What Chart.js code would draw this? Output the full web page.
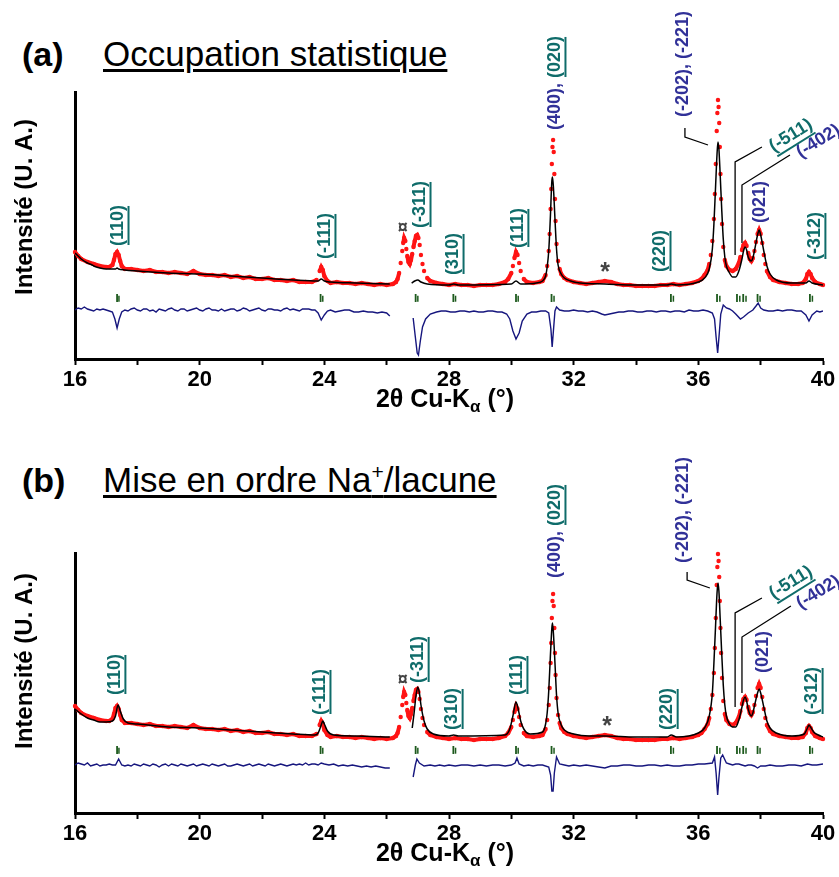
<!DOCTYPE html>
<html lang="fr">
<head>
<meta charset="utf-8">
<title>Affinement - Occupation statistique / Mise en ordre</title>
<script src="https://cdn.jsdelivr.net/npm/chart.js@4.4.0/dist/chart.umd.min.js"></script>
<style>
    html, body { margin: 0; padding: 0; background: #fff; }
    #page { position: relative; width: 839px; height: 877px; overflow: hidden; font-family: 'Liberation Sans', Arial, sans-serif; color: #000; }
    canvas { position: absolute; left: 0; }
    .tag { position: absolute; left: 22px; font-weight: bold; font-size: 34px; line-height: 1; white-space: nowrap; }
    .title { position: absolute; left: 103px; font-size: 35px; line-height: 1; white-space: nowrap;
             text-decoration: underline; text-decoration-thickness: 2.5px; text-underline-offset: 3px; }
    .title sup { font-size: 21px; vertical-align: 13px; line-height: 0; }
</style>
</head>
<body>
<div id="page">
    <div class="tag" style="top:37px">(a)</div>
    <div class="title" style="top:36px">Occupation statistique</div>
    <canvas id="chartA" width="839" height="430" style="top:0"></canvas>

    <div class="tag" style="top:463px">(b)</div>
    <div class="title" style="top:462px">Mise en ordre Na<sup>+</sup>/lacune</div>
    <canvas id="chartB" width="839" height="437" style="top:440px"></canvas>
</div>

<script>
// ===== DONNEES (2θ en degrés, intensité en unités arbitraires) =====

// Points observés (identiques pour les deux affinements)
const obsTheta = [
    16.0, 16.1, 16.2, 16.4, 16.6, 16.8, 17.0, 17.1, 17.2, 17.25,
    17.3, 17.35, 17.4, 17.45, 17.5, 17.6, 17.8, 18.0, 18.2, 18.4,
    18.6, 18.8, 19.0, 19.2, 19.4, 19.6, 19.8, 20.0, 20.2, 20.4,
    20.6, 20.8, 21.0, 21.2, 21.4, 21.6, 21.8, 22.0, 22.2, 22.4,
    22.6, 22.8, 23.0, 23.2, 23.4, 23.6, 23.75, 23.85, 23.9, 23.95,
    24.0, 24.1, 24.2, 24.4, 24.6, 24.8, 25.0, 25.2, 25.4, 25.6,
    25.8, 26.0, 26.2, 26.3, 26.35, 26.4, 26.45, 26.5, 26.53, 26.56,
    26.6, 26.63, 26.66, 26.7, 26.74, 26.78, 26.82, 26.86, 26.9, 26.94,
    26.98, 27.02, 27.06, 27.1, 27.15, 27.2, 27.3, 27.4, 27.6, 27.8,
    28.0, 28.2, 28.4, 28.6, 28.8, 29.0, 29.2, 29.4, 29.6, 29.8,
    29.9, 30.0, 30.05, 30.1, 30.15, 30.2, 30.25, 30.3, 30.4, 30.5,
    30.7, 30.9, 31.0, 31.1, 31.15, 31.2, 31.23, 31.26, 31.28, 31.3,
    31.32, 31.34, 31.36, 31.38, 31.4, 31.42, 31.45, 31.5, 31.55, 31.6,
    31.7, 31.8, 32.0, 32.2, 32.4, 32.6, 32.8, 33.0, 33.2, 33.4,
    33.6, 33.8, 34.0, 34.2, 34.4, 34.6, 34.8, 35.0, 35.2, 35.4,
    35.6, 35.8, 36.0, 36.1, 36.2, 36.3, 36.35, 36.4, 36.45, 36.5,
    36.53, 36.56, 36.59, 36.61, 36.63, 36.65, 36.67, 36.69, 36.71, 36.73,
    36.76, 36.8, 36.85, 36.9, 37.0, 37.1, 37.2, 37.3, 37.35, 37.4,
    37.45, 37.5, 37.55, 37.6, 37.65, 37.7, 37.75, 37.8, 37.85, 37.9,
    37.95, 38.0, 38.05, 38.1, 38.15, 38.2, 38.3, 38.4, 38.6, 38.8,
    39.0, 39.2, 39.35, 39.45, 39.5, 39.55, 39.6, 39.65, 39.75, 39.9,
    40.0
];
const obsInt = [
    107, 103, 100, 97, 95, 93, 92, 92, 94, 99,
    105, 107, 104, 98, 93, 90, 90, 89, 88, 89,
    87, 87, 86, 87, 86, 85, 88, 85, 84, 84,
    83, 84, 82, 83, 81, 82, 80, 80, 81, 79,
    79, 78, 79, 77, 77, 77, 79, 88, 92, 89,
    83, 78, 76, 77, 76, 76, 75, 76, 75, 74,
    75, 74, 75, 77, 80, 86, 96, 108, 116, 121,
    118, 110, 103, 97, 95, 99, 105, 112, 118, 123,
    124, 121, 114, 104, 95, 88, 81, 78, 76, 75,
    74, 75, 74, 74, 73, 74, 74, 74, 75, 77,
    80, 86, 93, 101, 107, 104, 96, 88, 80, 77,
    76, 77, 78, 84, 93, 108, 125, 150, 170, 195,
    212, 219, 207, 185, 160, 138, 115, 98, 90, 85,
    81, 79, 77, 76, 75, 76, 77, 78, 77, 75,
    74, 74, 73, 73, 73, 73, 74, 74, 75, 74,
    75, 76, 78, 80, 84, 89, 95, 104, 118, 140,
    165, 195, 228, 246, 259, 252, 236, 212, 185, 160,
    135, 112, 99, 93, 89, 88, 90, 96, 102, 109,
    114, 116, 113, 106, 100, 98, 101, 108, 117, 125,
    129, 125, 116, 104, 95, 88, 82, 79, 77, 76,
    75, 75, 76, 80, 85, 87, 85, 81, 77, 75,
    74
];

// Profil calculé (a) - null = zone exclue
const calcThetaA = [
    16.0, 16.2, 16.4, 16.55, 16.6, 16.8, 17.0, 17.3, 17.35, 17.4,
    17.6, 18.0, 19.0, 20.0, 21.0, 22.0, 23.0, 23.8, 23.9, 24.0,
    24.2, 25.0, 26.1, 26.45, 26.8, 26.9, 27.0, 27.1, 27.3, 28.0,
    28.15, 28.3, 30.0, 30.15, 30.3, 30.8, 31.0, 31.1, 31.15, 31.2,
    31.25, 31.3, 31.32, 31.35, 31.4, 31.45, 31.5, 31.6, 31.7, 31.9,
    32.2, 33.0, 34.0, 35.0, 35.13, 35.3, 36.0, 36.2, 36.35, 36.45,
    36.5, 36.55, 36.6, 36.63, 36.66, 36.7, 36.75, 36.8, 36.85, 36.9,
    37.0, 37.1, 37.2, 37.3, 37.4, 37.45, 37.5, 37.55, 37.6, 37.7,
    37.75, 37.8, 37.9, 37.95, 38.0, 38.1, 38.2, 38.3, 38.5, 39.0,
    39.45, 39.55, 39.65, 40.0
];
const calcIntA = [
    106, 100, 96, 94, 93, 91, 90, 90, 91, 90,
    89, 88, 86, 85, 83, 81, 79, 78, 80, 78,
    77, 76, 75, null, 76, 78, 79, 77, 75, 74,
    75, 74, 75, 78, 75, 76, 78, 83, 92, 108,
    140, 178, 182, 172, 140, 110, 94, 85, 81, 78,
    76, 75, 74, 74, 75, 74, 77, 81, 90, 110,
    135, 170, 205, 217, 210, 185, 150, 120, 102, 93,
    86, 82, 82, 88, 100, 108, 112, 109, 102, 98,
    101, 108, 124, 129, 124, 108, 93, 85, 79, 76,
    76, 78, 76, 74
];

// Profil calculé (b)
const calcThetaB = [
    16.0, 16.2, 16.4, 16.6, 16.8, 17.0, 17.2, 17.3, 17.38, 17.45,
    17.55, 17.7, 18.0, 19.0, 20.0, 21.0, 22.0, 23.0, 23.7, 23.8,
    23.9, 23.95, 24.0, 24.1, 24.3, 25.0, 26.1, 26.45, 26.82, 26.88,
    26.94, 27.0, 27.05, 27.1, 27.2, 27.3, 27.5, 28.0, 28.15, 28.3,
    29.8, 29.95, 30.05, 30.15, 30.22, 30.3, 30.4, 30.6, 31.0, 31.1,
    31.15, 31.2, 31.25, 31.3, 31.32, 31.35, 31.4, 31.45, 31.5, 31.6,
    31.7, 32.0, 32.5, 33.0, 34.0, 35.0, 35.13, 35.3, 36.0, 36.2,
    36.35, 36.45, 36.5, 36.55, 36.6, 36.63, 36.66, 36.7, 36.75, 36.8,
    36.85, 36.9, 37.0, 37.1, 37.2, 37.3, 37.4, 37.45, 37.5, 37.55,
    37.6, 37.7, 37.75, 37.8, 37.9, 37.95, 38.0, 38.1, 38.2, 38.3,
    38.5, 39.0, 39.4, 39.5, 39.55, 39.6, 39.7, 39.85, 40.0
];
const calcIntB = [
    104, 99, 95, 93, 91, 91, 92, 97, 108, 102,
    94, 90, 89, 86, 85, 83, 81, 79, 78, 80,
    88, 92, 89, 82, 78, 77, 76, null, 85, 100,
    117, 126, 120, 108, 92, 84, 79, 77, 78, 77,
    78, 84, 97, 111, 104, 92, 84, 79, 81, 89,
    100, 122, 155, 185, 190, 180, 150, 118, 100, 88,
    83, 79, 77, 77, 76, 76, 78, 76, 80, 85,
    97, 120, 150, 185, 220, 230, 222, 195, 160, 128,
    108, 97, 89, 86, 86, 93, 106, 113, 116, 112,
    104, 97, 100, 107, 120, 124, 120, 106, 92, 85,
    80, 77, 79, 85, 88, 86, 81, 78, 76
];

// Différence obs - calc (a)
const diffThetaA = [
    16.0, 16.1, 16.2, 16.3, 16.4, 16.5, 16.6, 16.7, 16.8, 16.9,
    17.0, 17.1, 17.2, 17.28, 17.35, 17.42, 17.5, 17.6, 17.7, 17.8,
    17.9, 18.0, 18.1, 18.2, 18.3, 18.4, 18.5, 18.6, 18.7, 18.8,
    18.9, 19.0, 19.1, 19.2, 19.3, 19.4, 19.5, 19.6, 19.7, 19.8,
    19.9, 20.0, 20.1, 20.2, 20.3, 20.4, 20.5, 20.6, 20.7, 20.8,
    20.9, 21.0, 21.1, 21.2, 21.3, 21.4, 21.5, 21.6, 21.7, 21.8,
    21.9, 22.0, 22.1, 22.2, 22.3, 22.4, 22.5, 22.6, 22.7, 22.8,
    22.9, 23.0, 23.1, 23.2, 23.3, 23.4, 23.5, 23.6, 23.7, 23.8,
    23.9, 24.0, 24.1, 24.2, 24.35, 24.5, 24.65, 24.8, 24.95, 25.1,
    25.25, 25.4, 25.55, 25.7, 25.85, 26.0, 26.1, 26.45, 26.85, 26.92,
    26.98, 27.02, 27.08, 27.15, 27.25, 27.4, 27.6, 27.75, 27.9, 28.05,
    28.2, 28.35, 28.5, 28.65, 28.8, 28.95, 29.1, 29.25, 29.4, 29.55,
    29.7, 29.85, 29.95, 30.05, 30.15, 30.25, 30.35, 30.5, 30.65, 30.8,
    30.95, 31.1, 31.2, 31.27, 31.31, 31.35, 31.4, 31.45, 31.55, 31.7,
    31.85, 32.0, 32.15, 32.3, 32.45, 32.6, 32.75, 32.9, 33.0, 33.15,
    33.3, 33.45, 33.6, 33.75, 33.9, 34.05, 34.2, 34.35, 34.5, 34.65,
    34.8, 34.95, 35.1, 35.25, 35.4, 35.55, 35.7, 35.85, 36.0, 36.15,
    36.3, 36.45, 36.52, 36.57, 36.62, 36.67, 36.72, 36.8, 36.9, 37.0,
    37.1, 37.2, 37.35, 37.45, 37.6, 37.75, 37.85, 37.92, 38.0, 38.1,
    38.25, 38.4, 38.55, 38.7, 38.85, 39.0, 39.15, 39.3, 39.45, 39.55,
    39.65, 39.8, 39.9, 40.0
];
const diffIntA = [
    49, 51, 50, 52, 50, 49, 48, 50, 49, 50,
    49, 48, 47, 40, 31, 40, 47, 49, 48, 50,
    51, 49, 48, 50, 50, 48, 49, 47, 50, 49,
    48, 50, 51, 49, 48, 50, 50, 48, 49, 50,
    51, 49, 48, 50, 51, 49, 49, 48, 50, 48,
    49, 50, 50, 48, 49, 51, 50, 48, 49, 50,
    51, 49, 48, 50, 50, 49, 49, 48, 50, 51,
    49, 50, 49, 48, 50, 50, 50, 49, 49, 46,
    39, 44, 48, 49, 47, 48, 49, 49, 47, 47,
    48, 47, 47, 46, 47, 46, 43, null, 41, 22,
    6, 4, 18, 32, 40, 45, 47, 48, 48, 47,
    47, 48, 48, 47, 48, 47, 47, 48, 48, 47,
    47, 45, 40, 28, 20, 26, 38, 45, 47, 47,
    48, 48, 46, 30, 12, 28, 48, 52, 49, 48,
    48, 49, 48, 48, 47, 48, 47, 45, 44, 45,
    46, 47, 47, 48, 48, 47, 47, 48, 48, 47,
    48, 48, 47, 48, 48, 47, 49, 48, 48, 49,
    48, 46, 40, 22, 6, 25, 45, 54, 51, 50,
    48, 45, 40, 42, 46, 49, 53, 56, 51, 49,
    48, 48, 49, 48, 49, 49, 48, 48, 44, 38,
    44, 48, 47, 48
];

// Différence obs - calc (b)
const diffThetaB = [
    16.0, 16.1, 16.2, 16.3, 16.4, 16.5, 16.6, 16.7, 16.8, 16.9,
    17.0, 17.1, 17.2, 17.3, 17.4, 17.5, 17.6, 17.7, 17.8, 17.9,
    18.0, 18.1, 18.2, 18.3, 18.4, 18.5, 18.6, 18.7, 18.8, 18.9,
    19.0, 19.1, 19.2, 19.3, 19.4, 19.5, 19.6, 19.7, 19.8, 19.9,
    20.0, 20.1, 20.2, 20.3, 20.4, 20.5, 20.6, 20.7, 20.8, 20.9,
    21.0, 21.1, 21.2, 21.3, 21.4, 21.5, 21.6, 21.7, 21.8, 21.9,
    22.0, 22.1, 22.2, 22.3, 22.4, 22.5, 22.6, 22.7, 22.8, 22.9,
    23.0, 23.1, 23.2, 23.3, 23.4, 23.5, 23.6, 23.7, 23.8, 23.9,
    24.0, 24.15, 24.3, 24.45, 24.6, 24.75, 24.9, 25.05, 25.2, 25.35,
    25.5, 25.65, 25.8, 25.95, 26.1, 26.45, 26.85, 26.92, 26.97, 27.05,
    27.2, 27.4, 27.55, 27.7, 27.85, 28.0, 28.2, 28.4, 28.6, 28.8,
    29.0, 29.2, 29.4, 29.6, 29.8, 30.0, 30.12, 30.18, 30.25, 30.4,
    30.55, 30.7, 30.85, 31.0, 31.2, 31.26, 31.3, 31.34, 31.38, 31.45,
    31.55, 31.7, 31.85, 32.0, 32.2, 32.4, 32.6, 32.8, 33.0, 33.2,
    33.4, 33.6, 33.8, 34.0, 34.2, 34.4, 34.6, 34.8, 35.0, 35.2,
    35.4, 35.6, 35.8, 36.0, 36.2, 36.45, 36.52, 36.57, 36.62, 36.66,
    36.72, 36.78, 36.9, 37.0, 37.1, 37.2, 37.3, 37.4, 37.5, 37.6,
    37.7, 37.8, 37.9, 38.0, 38.15, 38.3, 38.5, 38.7, 38.9, 39.1,
    39.3, 39.5, 39.65, 39.8, 40.0
];
const diffIntB = [
    48, 50, 49, 48, 50, 47, 48, 49, 47, 48,
    48, 49, 48, 48, 54, 48, 47, 48, 47, 49,
    48, 47, 49, 48, 47, 49, 48, 46, 48, 49,
    47, 49, 48, 47, 49, 48, 47, 48, 49, 47,
    48, 49, 48, 47, 49, 48, 47, 48, 49, 47,
    47, 48, 49, 48, 47, 48, 49, 47, 48, 49,
    48, 47, 49, 48, 47, 48, 49, 48, 47, 48,
    49, 48, 49, 48, 50, 48, 49, 49, 48, 50,
    49, 48, 49, 47, 48, 47, 48, 47, 46, 47,
    46, 47, 46, 45, 45, null, 36, 48, 54, 50,
    47, 48, 47, 48, 47, 48, 47, 48, 48, 47,
    48, 47, 48, 48, 47, 48, 50, 55, 49, 47,
    48, 47, 48, 48, 46, 38, 22, 22, 40, 56,
    49, 48, 47, 48, 47, 48, 47, 46, 45, 47,
    47, 48, 48, 47, 47, 48, 48, 47, 48, 47,
    47, 48, 48, 49, 49, 50, 56, 40, 18, 35,
    55, 58, 50, 49, 48, 49, 49, 48, 47, 48,
    48, 47, 45, 47, 47, 48, 47, 47, 48, 48,
    47, 49, 48, 48, 49
];

// Positions de Bragg (Kα1 et Kα2)
const braggK1 = [17.35, 23.88, 26.93, 28.14, 30.15, 31.29, 35.12, 36.6, 37.24, 37.44, 37.9, 39.58];
const braggK2 = [17.41, 23.95, 27.0, 28.21, 30.22, 31.37, 35.2, 36.69, 37.33, 37.53, 37.98, 39.66];

// ===== STYLES =====
const FONT = "'Liberation Sans', Arial, Helvetica, sans-serif";
const NARROW = "'Liberation Sans Narrow', 'Arial Narrow', 'Liberation Sans', Arial, sans-serif";
const TEAL = '#0f6c6a';
const BLUE = '#313198';

// Annotations des pics (position 2θ, hauteur de départ)
const labelsA = [
    { x: 17.38, y: 113, parts: [['(110)', TEAL, true]] },
    { x: 24.02, y: 100, parts: [['(-111)', TEAL, true]] },
    { x: 27.07, y: 131, parts: [['(-311)', TEAL, true]] },
    { x: 28.13, y: 84, parts: [['(310)', TEAL, true]] },
    { x: 30.21, y: 111, parts: [['(111)', TEAL, true]] },
    { x: 31.40, y: 229, parts: [['(400), ', BLUE, false], ['(020)', TEAL, true]] },
    { x: 34.77, y: 87, parts: [['(220)', TEAL, true]] },
    { x: 35.51, y: 242, parts: [['(-202), (-221)', BLUE, false]] },
    { x: 38.33, y: 211, angle: 32, parts: [['(-511)', TEAL, true]] },
    { x: 39.20, y: 205, angle: 32, parts: [['(-402)', BLUE, false]] },
    { x: 37.98, y: 136, parts: [['(021)', BLUE, false]] },
    { x: 39.74, y: 99, parts: [['(-312)', TEAL, true]] }
];
const labelsB = [
    { x: 17.28, y: 118, parts: [['(110)', TEAL, true]] },
    { x: 23.86, y: 98, parts: [['(-111)', TEAL, true]] },
    { x: 27.01, y: 130, parts: [['(-311)', TEAL, true]] },
    { x: 28.10, y: 83, parts: [['(310)', TEAL, true]] },
    { x: 30.18, y: 118, parts: [['(111)', TEAL, true]] },
    { x: 31.40, y: 235, parts: [['(400), ', BLUE, false], ['(020)', TEAL, true]] },
    { x: 35.00, y: 83, parts: [['(220)', TEAL, true]] },
    { x: 35.51, y: 250, parts: [['(-202), (-221)', BLUE, false]] },
    { x: 38.33, y: 218, angle: 32, parts: [['(-511)', TEAL, true]] },
    { x: 39.20, y: 208, angle: 32, parts: [['(-402)', BLUE, false]] },
    { x: 38.07, y: 140, parts: [['(021)', BLUE, false]] },
    { x: 39.65, y: 98, parts: [['(-312)', TEAL, true]] }
];
const leadersA = [
    [[35.57, 231], [35.57, 222], [36.31, 214]],
    [[38.04, 212], [37.18, 197], [37.18, 104]],
    [[38.94, 204], [37.40, 174], [37.40, 116]]
];
const leadersB = [
    [[35.64, 241], [35.64, 233], [36.37, 225]],
    [[38.04, 215], [37.18, 200], [37.18, 106]],
    [[38.97, 207], [37.40, 176], [37.40, 120]]
];
const marksA = [{ x: 26.52, y: 131, text: '¤', size: 18 }, { x: 33.01, y: 86, text: '*', size: 25 }];
const marksB = [{ x: 26.52, y: 133, text: '¤', size: 18 }, { x: 33.07, y: 86, text: '*', size: 25 }];

// ===== OUTILS =====
function toPoints(xs, ys) {
    return xs.map((x, i) => ({ x: x, y: ys[i] }));
}

function levelPoints(xs, level) {
    return xs.map(x => ({ x: x, y: level }));
}

// Plugin : titres des axes, indexation des pics, symboles
const peakNotes = {
    id: 'peakNotes',
    afterDraw(chart, args, opts) {
        const { ctx, chartArea } = chart;
        const sx = chart.scales.x;
        const sy = chart.scales.y;
        ctx.save();

        // lignes de rappel
        ctx.strokeStyle = '#000';
        ctx.lineWidth = 1.3;
        opts.leaders.forEach(path => {
            ctx.beginPath();
            path.forEach((p, i) => {
                const px = sx.getPixelForValue(p[0]);
                const py = sy.getPixelForValue(p[1]);
                if (i === 0) ctx.moveTo(px, py); else ctx.lineTo(px, py);
            });
            ctx.stroke();
        });

        // indices (hkl)
        ctx.font = 'bold 18px ' + FONT;
        opts.labels.forEach(lbl => {
            ctx.save();
            ctx.translate(sx.getPixelForValue(lbl.x), sy.getPixelForValue(lbl.y));
            ctx.rotate(-(lbl.angle === undefined ? 90 : lbl.angle) * Math.PI / 180);
            ctx.textAlign = 'left';
            ctx.textBaseline = 'middle';
            let cx = 0;
            lbl.parts.forEach(part => {
                const w = ctx.measureText(part[0]).width;
                ctx.fillStyle = part[1];
                ctx.fillText(part[0], cx, 0);
                if (part[2]) ctx.fillRect(cx + 1, 9.5, w - 2, 2);
                cx += w;
            });
            ctx.restore();
        });

        // symboles ¤ et *
        ctx.textAlign = 'center';
        ctx.textBaseline = 'middle';
        ctx.fillStyle = '#444';
        opts.marks.forEach(m => {
            ctx.font = 'bold ' + m.size + 'px ' + FONT;
            ctx.fillText(m.text, sx.getPixelForValue(m.x), sy.getPixelForValue(m.y));
        });

        // titre axe Y
        ctx.fillStyle = '#000';
        ctx.save();
        ctx.translate(25, chartArea.bottom - 152);
        ctx.rotate(-Math.PI / 2);
        ctx.font = 'bold 24px ' + FONT;
        ctx.fillText('Intensité (U. A.)', 0, 0);
        ctx.restore();

        // titre axe X avec indice α
        const parts = [['2θ Cu-K', 25, 0], ['α', 17, 7], [' (°)', 25, 0]];
        let total = 0;
        parts.forEach(p => {
            ctx.font = 'bold ' + p[1] + 'px ' + NARROW;
            p.push(ctx.measureText(p[0]).width);
            total += p[3];
        });
        let tx = 445 - total / 2;
        const ty = chartArea.bottom + 41;
        ctx.textAlign = 'left';
        parts.forEach(p => {
            ctx.font = 'bold ' + p[1] + 'px ' + NARROW;
            ctx.fillText(p[0], tx, ty + p[2]);
            tx += p[3];
        });
        ctx.restore();
    }
};

// ===== CREATION D'UN PANNEAU =====
function makePanel(canvasId, cfg) {
    const ctx = document.getElementById(canvasId).getContext('2d');
    return new Chart(ctx, {
        type: 'line',
        data: {
            datasets: [
                {
                    label: 'Calc',
                    data: toPoints(cfg.calcTheta, cfg.calcInt),
                    borderColor: '#000',
                    borderWidth: 1.5,
                    pointRadius: 0,
                    cubicInterpolationMode: 'monotone',
                    order: 1
                },
                {
                    label: 'Diff',
                    data: toPoints(cfg.diffTheta, cfg.diffInt),
                    borderColor: '#16167e',
                    borderWidth: 1.4,
                    pointRadius: 0,
                    order: 2
                },
                {
                    label: 'Obs',
                    data: toPoints(obsTheta, obsInt),
                    borderColor: '#ff1414',
                    borderWidth: 4,
                    pointRadius: 2.2,
                    pointBorderWidth: 0,
                    pointBackgroundColor: '#ff1414',
                    clip: false,
                    segment: {
                        borderColor: c => Math.abs(c.p1.parsed.y - c.p0.parsed.y) > 6 ? 'transparent' : undefined
                    },
                    order: 3
                },
                {
                    label: 'Bragg Ka1',
                    data: levelPoints(braggK1, cfg.braggLevel),
                    showLine: false,
                    pointStyle: 'line',
                    rotation: 90,
                    pointRadius: 4,
                    pointBorderWidth: 1.8,
                    pointBorderColor: '#1d5a1d',
                    order: 4
                },
                {
                    label: 'Bragg Ka2',
                    data: levelPoints(braggK2, cfg.braggLevel - 0.7),
                    showLine: false,
                    pointStyle: 'line',
                    rotation: 90,
                    pointRadius: 3,
                    pointBorderWidth: 1.5,
                    pointBorderColor: '#1d5a1d',
                    order: 4
                }
            ]
        },
        options: {
            responsive: false,
            maintainAspectRatio: false,
            animation: false,
            layout: { padding: { top: cfg.padTop, right: 16, left: 0, bottom: 0 } },
            plugins: {
                legend: { display: false },
                tooltip: { enabled: false },
                peakNotes: { labels: cfg.labels, leaders: cfg.leaders, marks: cfg.marks }
            },
            scales: {
                x: {
                    type: 'linear',
                    min: 16,
                    max: 40,
                    afterFit: s => { s.height = cfg.axisHeight; },
                    border: { color: '#000', width: 3 },
                    grid: { display: true, drawOnChartArea: false, drawTicks: true, tickLength: 6, tickWidth: 2, color: '#000' },
                    ticks: {
                        stepSize: 2,
                        autoSkip: false,
                        maxRotation: 0,
                        padding: 2,
                        color: '#000',
                        font: { family: NARROW, size: 22, weight: 'bold' },
                        callback: v => (v % 4 === 0 ? v : '')
                    }
                },
                y: {
                    min: 0,
                    max: cfg.yMax,
                    afterFit: s => { s.width = 75; },
                    border: { color: '#000', width: 3 },
                    grid: { display: false },
                    ticks: { display: false }
                }
            }
        },
        plugins: [peakNotes]
    });
}

document.addEventListener('DOMContentLoaded', function() {
    makePanel('chartA', {
        calcTheta: calcThetaA, calcInt: calcIntA,
        diffTheta: diffThetaA, diffInt: diffIntA,
        yMax: 267, padTop: 92, axisHeight: 71, braggLevel: 61,
        labels: labelsA, leaders: leadersA, marks: marksA
    });
    makePanel('chartB', {
        calcTheta: calcThetaB, calcInt: calcIntB,
        diffTheta: diffThetaB, diffInt: diffIntB,
        yMax: 260, padTop: 113, axisHeight: 64, braggLevel: 63,
        labels: labelsB, leaders: leadersB, marks: marksB
    });
});
</script>
</body>
</html>
